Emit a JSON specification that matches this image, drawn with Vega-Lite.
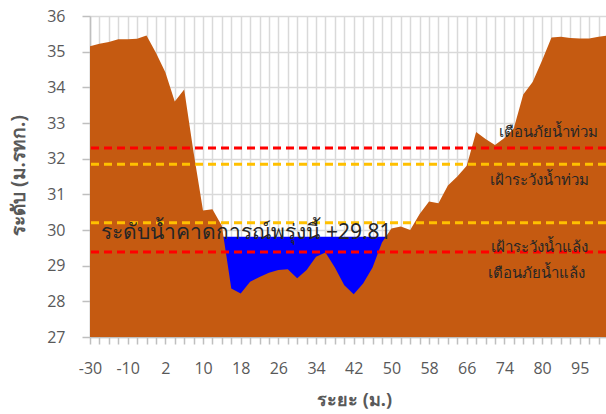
{
  "$schema": "https://vega.github.io/schema/vega-lite/v6.json",
  "width": 516,
  "height": 321,
  "autosize": "none",
  "padding": {"left": 90, "top": 16, "right": 0, "bottom": 77},
  "background": "white",
  "config": {
    "view": {"stroke": null},
    "font": "Open Sans",
    "axisX": {
      "labelFontSize": 16, "labelColor": "#595959", "labelAngle": 0, "labelPadding": 16,
      "tickColor": "#BFBFBF", "tickSize": 7, "tickWidth": 1.5,
      "domainColor": "#BFBFBF", "domainWidth": 1.5,
      "gridColor": "#D9D9D9", "gridWidth": 1.5,
      "titleFontSize": 18, "titleFontWeight": "bold", "titleColor": "#595959",
      "titleX": 264, "titleY": 68, "titleBaseline": "alphabetic"
    },
    "axisY": {
      "labelFontSize": 16, "labelColor": "#595959", "labelPadding": 17,
      "tickColor": "#BFBFBF", "tickSize": 8, "tickWidth": 1.5,
      "domainColor": "#BFBFBF", "domainWidth": 1.5,
      "gridColor": "#D9D9D9", "gridWidth": 1.5, "grid": true,
      "values": [27, 28, 29, 30, 31, 32, 33, 34, 35, 36], "labelOverlap": false,
      "titleFontSize": 19, "titleFontWeight": "bold", "titleColor": "#595959",
      "titleX": -72, "titleY": 159, "titleAngle": -90, "titleBaseline": "middle", "titleAlign": "center"
    }
  },
  "datasets": {
    "profile": [
      {"dist": -30, "ground": 35.15, "water": null},
      {"dist": -25, "ground": 35.22, "water": null},
      {"dist": -20, "ground": 35.27, "water": null},
      {"dist": -15, "ground": 35.35, "water": null},
      {"dist": -10, "ground": 35.35, "water": null},
      {"dist": -7, "ground": 35.36, "water": null},
      {"dist": -4, "ground": 35.45, "water": null},
      {"dist": -1, "ground": 34.97, "water": null},
      {"dist": 2, "ground": 34.42, "water": null},
      {"dist": 4, "ground": 33.6, "water": null},
      {"dist": 6, "ground": 33.94, "water": null},
      {"dist": 8, "ground": 32.17, "water": null},
      {"dist": 10, "ground": 30.55, "water": null},
      {"dist": 12, "ground": 30.58, "water": null},
      {"dist": 14, "ground": 30.12, "water": 29.81},
      {"dist": 16, "ground": 28.36, "water": 29.81},
      {"dist": 18, "ground": 28.22, "water": 29.81},
      {"dist": 20, "ground": 28.55, "water": 29.81},
      {"dist": 22, "ground": 28.68, "water": 29.81},
      {"dist": 24, "ground": 28.8, "water": 29.81},
      {"dist": 26, "ground": 28.88, "water": 29.81},
      {"dist": 28, "ground": 28.9, "water": 29.81},
      {"dist": 30, "ground": 28.65, "water": 29.81},
      {"dist": 32, "ground": 28.88, "water": 29.81},
      {"dist": 34, "ground": 29.25, "water": 29.81},
      {"dist": 36, "ground": 29.37, "water": 29.81},
      {"dist": 38, "ground": 28.95, "water": 29.81},
      {"dist": 40, "ground": 28.45, "water": 29.81},
      {"dist": 42, "ground": 28.2, "water": 29.81},
      {"dist": 44, "ground": 28.5, "water": 29.81},
      {"dist": 46, "ground": 28.95, "water": 29.81},
      {"dist": 48, "ground": 29.65, "water": 29.81},
      {"dist": 50, "ground": 30.04, "water": 29.81},
      {"dist": 52, "ground": 30.1, "water": null},
      {"dist": 54, "ground": 30.0, "water": null},
      {"dist": 56, "ground": 30.45, "water": null},
      {"dist": 58, "ground": 30.8, "water": null},
      {"dist": 60, "ground": 30.75, "water": null},
      {"dist": 62, "ground": 31.25, "water": null},
      {"dist": 64, "ground": 31.5, "water": null},
      {"dist": 66, "ground": 31.8, "water": null},
      {"dist": 68, "ground": 32.75, "water": null},
      {"dist": 70, "ground": 32.55, "water": null},
      {"dist": 72, "ground": 32.38, "water": null},
      {"dist": 74, "ground": 32.58, "water": null},
      {"dist": 75.5, "ground": 32.85, "water": null},
      {"dist": 77, "ground": 33.8, "water": null},
      {"dist": 78.5, "ground": 34.15, "water": null},
      {"dist": 80, "ground": 34.75, "water": null},
      {"dist": 84, "ground": 35.4, "water": null},
      {"dist": 88, "ground": 35.42, "water": null},
      {"dist": 92, "ground": 35.38, "water": null},
      {"dist": 95, "ground": 35.37, "water": null},
      {"dist": 98, "ground": 35.37, "water": null},
      {"dist": 101, "ground": 35.42, "water": null},
      {"dist": 104, "ground": 35.45, "water": null}
    ],
    "levels": [
      {"name": "เตือนภัยน้ำท่วม", "level": 32.3, "kind": "warn"},
      {"name": "เฝ้าระวังน้ำท่วม", "level": 31.84, "kind": "watch"},
      {"name": "เฝ้าระวังน้ำแล้ง", "level": 30.2, "kind": "watch"},
      {"name": "เตือนภัยน้ำแล้ง", "level": 29.38, "kind": "warn"}
    ],
    "one": [{}]
  },
  "encoding": {
    "x": {
      "field": "dist", "type": "ordinal", "sort": "ascending",
      "scale": {"type": "point", "padding": 0, "range": [0, 518]},
      "axis": {
        "title": "ระยะ (ม.)", "grid": true,
        "labelExpr": "indexof([-30,-10,2,10,18,26,34,42,50,58,66,74,80,95], datum.value) >= 0 ? datum.label : ''"
      }
    }
  },
  "layer": [
    {
      "data": {"name": "profile"},
      "mark": {"type": "area", "color": "#0000FF", "interpolate": "linear"},
      "encoding": {
        "y": {
          "field": "water", "type": "quantitative", "title": "ระดับ (ม.รทก.)",
          "scale": {"domain": [27, 36], "nice": false, "zero": false}
        },
        "y2": {"datum": 27}
      }
    },
    {
      "data": {"name": "profile"},
      "mark": {"type": "area", "color": "#C55A11", "interpolate": "linear"},
      "encoding": {
        "y": {"field": "ground", "type": "quantitative", "title": "ระดับ (ม.รทก.)"},
        "y2": {"datum": 27}
      }
    },
    {
      "data": {"name": "levels"},
      "mark": {"type": "rule", "strokeWidth": 3, "strokeDash": [8, 5]},
      "encoding": {
        "x": null,
        "y": {"field": "level", "type": "quantitative", "title": "ระดับ (ม.รทก.)"},
        "color": {"field": "kind", "type": "nominal", "legend": null,
          "scale": {"domain": ["warn", "watch"], "range": ["#FF0000", "#FFC000"]}}
      }
    },
    {
      "data": {"name": "one"},
      "mark": {"type": "text", "text": "เตือนภัยน้ำท่วม", "fontSize": 15, "font": "Noto Sans", "color": "#262626", "align": "center", "baseline": "alphabetic", "dx": -3},
      "encoding": {"x": {"datum": 84}, "y": {"datum": 32.6, "title": "ระดับ (ม.รทก.)"}}
    },
    {
      "data": {"name": "one"},
      "mark": {"type": "text", "text": "เฝ้าระวังน้ำท่วม", "fontSize": 15, "font": "Noto Sans", "color": "#262626", "align": "center", "baseline": "alphabetic", "dx": -3},
      "encoding": {"x": {"datum": 80}, "y": {"datum": 31.26, "title": "ระดับ (ม.รทก.)"}}
    },
    {
      "data": {"name": "one"},
      "mark": {"type": "text", "text": "เฝ้าระวังน้ำแล้ง", "fontSize": 15, "font": "Noto Sans", "color": "#262626", "align": "center", "baseline": "alphabetic", "dx": -3},
      "encoding": {"x": {"datum": 80}, "y": {"datum": 29.39, "title": "ระดับ (ม.รทก.)"}}
    },
    {
      "data": {"name": "one"},
      "mark": {"type": "text", "text": "เตือนภัยน้ำแล้ง", "fontSize": 15, "font": "Noto Sans", "color": "#262626", "align": "center", "baseline": "alphabetic", "dx": -6},
      "encoding": {"x": {"datum": 80}, "y": {"datum": 28.66, "title": "ระดับ (ม.รทก.)"}}
    },
    {
      "data": {"name": "one"},
      "mark": {"type": "text", "text": "ระดับน้ำคาดการณ์พรุ่งนี้ +29.81", "fontSize": 21, "font": "Noto Sans", "color": "#262626", "align": "left", "baseline": "alphabetic", "dx": 2},
      "encoding": {"x": {"datum": -25}, "y": {"datum": 29.76, "title": "ระดับ (ม.รทก.)"}}
    }
  ]
}
